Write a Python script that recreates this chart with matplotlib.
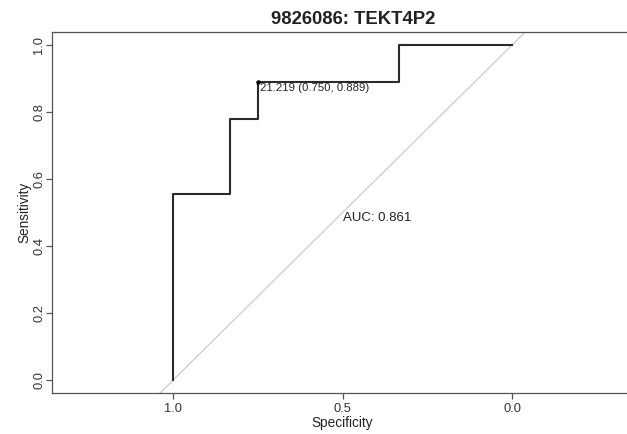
import matplotlib
matplotlib.use("Agg")
import matplotlib.pyplot as plt

plt.rcParams['font.family'] = ['Liberation Sans', 'DejaVu Sans']

title = "9826086: TEKT4P2"
specificity = [1.0, 1.0, 0.8333, 0.8333, 0.75, 0.75, 0.3333, 0.3333, 0.0]
sensitivity = [0.0, 0.5556, 0.5556, 0.7778, 0.7778, 0.8889, 0.8889, 1.0, 1.0]
best_threshold = 21.219
best_spec = 0.750
best_sens = 0.889
auc = 0.861
xticks = [1.0, 0.5, 0.0]
yticks = [0.0, 0.2, 0.4, 0.6, 0.8, 1.0]

W, H = 627, 434
fig = plt.figure(figsize=(W / 100, H / 100), dpi=100)
ax = fig.add_axes([52 / W, (H - 393) / H, 1 - 52 / W + 0.01, 361 / H])
ax.set_xlim(1.358, -0.358)
ax.set_ylim(-0.039, 1.039)

spine_c = '#555555'
for s in ['left', 'bottom', 'top']:
    ax.spines[s].set_color(spine_c)
    ax.spines[s].set_linewidth(0.9)
ax.spines['right'].set_visible(False)

# diagonal reference line
ax.plot([1.5, -0.5], [-0.5, 1.5], color='#cccccc', lw=0.9, zorder=1)
# ROC curve
ax.plot(specificity, sensitivity, color='#2a2a2a', lw=1.5, zorder=2)
ax.plot([best_spec], [best_sens], 'o', color='black', ms=2.2, zorder=3)
ax.text(best_spec - 0.006, best_sens - 0.003,
        f"{best_threshold:.3f} ({best_spec:.3f}, {best_sens:.3f})",
        ha='left', va='top', fontsize=8.2, color='#222222')
ax.text(0.5, 0.5, f"AUC: {auc:.3f}", ha='left', va='top', fontsize=9.5, color='#222222')

ax.set_xticks(xticks)
ax.set_xticklabels([f"{v:.1f}" for v in xticks])
ax.set_yticks(yticks)
ax.set_yticklabels([f"{v:.1f}" for v in yticks], rotation=90, va='center')
ax.tick_params(axis='both', direction='out', length=4, width=0.9, color=spine_c,
               labelsize=9.3, labelcolor='#333333', pad=3)
ax.tick_params(axis='y', pad=1)
ax.set_xlabel("Specificity", fontsize=9.8, color='#222222', labelpad=1)
ax.set_ylabel("Sensitivity", fontsize=9.8, color='#222222', labelpad=1)

fig.text(353 / W, 1 - 19.5 / H, title, ha='center', va='center',
         fontsize=13.3, fontweight='bold', color='#222222')

fig.savefig("out.png", dpi=100, facecolor='white')
